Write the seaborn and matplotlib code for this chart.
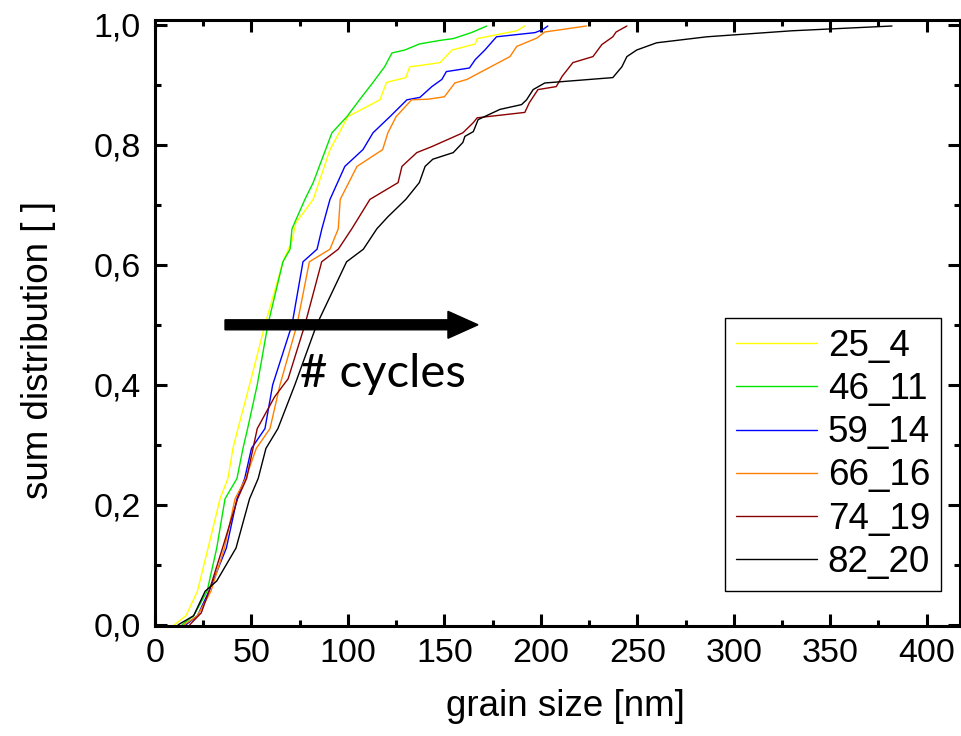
import numpy as np
import pandas as pd
import matplotlib
matplotlib.use("Agg")
import matplotlib.pyplot as plt
import seaborn as sns

# ---------------- data ----------------
labels = ["25_4", "46_11", "59_14", "66_16", "74_19", "82_20"]
colors = ["#ffff00", "#00e600", "#0000ff", "#ff8000", "#8b0000", "#000000"]

x_25_4 = [10, 16, 22, 27.5, 33.7, 37.8, 40.4, 43, 49, 57, 66.3, 71, 73, 82, 90.7, 100,
          116.6, 120, 130, 132, 137, 147.7, 154, 166, 167, 187.5, 191.7]
y_25_4 = [0, 0.015, 0.056, 0.128, 0.21, 0.244, 0.294, 0.327, 0.4, 0.5, 0.605, 0.64, 0.67, 0.709,
          0.792, 0.847, 0.875, 0.904, 0.912, 0.93, 0.932, 0.937, 0.958, 0.968, 0.977, 0.99, 0.998]

x_46_11 = [14, 20, 27, 32, 36.3, 42.5, 45.6, 48, 53, 58.5, 66.3, 70, 71, 77.7, 82, 91.7, 99.5,
           106, 113, 119, 122.8, 129.5, 137, 147.7, 154.6, 164, 172]
y_46_11 = [0, 0.015, 0.056, 0.128, 0.21, 0.244, 0.294, 0.327, 0.4, 0.5, 0.605, 0.626, 0.66,
           0.709, 0.737, 0.82, 0.847, 0.875, 0.904, 0.93, 0.953, 0.958, 0.968, 0.974, 0.977,
           0.987, 0.998]

x_59_14 = [16, 22, 28, 37, 42.5, 46.5, 50, 57, 61, 71, 76.7, 84, 86.5, 90.7, 98.4, 107.8, 113,
           121.8, 130.6, 137.3, 143.5, 148.7, 151, 163, 166, 171, 177, 197, 201, 203.6]
y_59_14 = [0, 0.015, 0.056, 0.128, 0.21, 0.244, 0.294, 0.327, 0.4, 0.5, 0.605, 0.626, 0.66,
           0.709, 0.764, 0.792, 0.82, 0.847, 0.875, 0.879, 0.897, 0.909, 0.922, 0.928, 0.942,
           0.958, 0.98, 0.987, 0.992, 0.998]

x_66_16 = [15, 22, 29, 36, 41.5, 47, 52.5, 59.6, 64.8, 73.6, 80, 90.7, 95, 96, 104.7, 118,
           120.7, 125, 133, 141.5, 150, 155.4, 161.7, 184, 187.5, 198, 202, 223.6]
y_66_16 = [0, 0.015, 0.056, 0.128, 0.21, 0.244, 0.294, 0.327, 0.4, 0.5, 0.605, 0.626, 0.66,
           0.709, 0.764, 0.792, 0.82, 0.847, 0.875, 0.876, 0.88, 0.903, 0.909, 0.947, 0.964,
           0.978, 0.988, 0.998]

x_74_19 = [18, 24, 28, 35, 42.8, 47.5, 50.8, 53, 62, 69, 77.7, 86.4, 95, 102, 111.4, 126, 128,
           135.7, 143.5, 159.6, 165, 167, 191.7, 194, 198.5, 208, 211, 216.6, 227, 231.6,
           237.3, 239, 244.6]
y_74_19 = [0, 0.02, 0.056, 0.128, 0.21, 0.244, 0.294, 0.327, 0.38, 0.41, 0.5, 0.605, 0.626,
           0.66, 0.709, 0.737, 0.764, 0.787, 0.797, 0.82, 0.837, 0.845, 0.854, 0.87, 0.892,
           0.897, 0.914, 0.937, 0.947, 0.967, 0.98, 0.988, 0.998]

x_82_20 = [12, 20, 26, 32, 42, 49, 53.5, 57.5, 63.7, 72.5, 83.8, 99.3, 108, 115, 120.7, 130,
           137, 140, 144, 154.6, 159.6, 160.6, 165, 167.5, 178.8, 190, 192.6, 196, 202, 237.3,
           242, 244.6, 249.7, 260, 286, 330, 382]
y_82_20 = [0, 0.015, 0.056, 0.073, 0.128, 0.21, 0.244, 0.294, 0.327, 0.4, 0.5, 0.605, 0.626,
           0.66, 0.68, 0.709, 0.737, 0.764, 0.776, 0.787, 0.804, 0.814, 0.822, 0.842, 0.859,
           0.867, 0.875, 0.892, 0.903, 0.912, 0.93, 0.947, 0.958, 0.97, 0.98, 0.99, 0.998]

xs = [x_25_4, x_46_11, x_59_14, x_66_16, x_74_19, x_82_20]
ys = [y_25_4, y_46_11, y_59_14, y_66_16, y_74_19, y_82_20]

x_ticks = [0, 50, 100, 150, 200, 250, 300, 350, 400]
y_ticks = [0.0, 0.2, 0.4, 0.6, 0.8, 1.0]
y_ticklabels = ["0,0", "0,2", "0,4", "0,6", "0,8", "1,0"]

arrow_start, arrow_end, arrow_y = 36.3, 167.4, 0.5
annot_text = "# cycles"

# ---------------- build long table ----------------
frames = []
for lab, x, y in zip(labels, xs, ys):
    frames.append(pd.DataFrame({"grain": x, "cum": y, "sample": lab}))
df = pd.concat(frames, ignore_index=True)

sns.set_style("ticks")
plt.rcParams["font.family"] = ["Liberation Sans", "DejaVu Sans"]
plt.rcParams["text.color"] = "black"
plt.rcParams["axes.labelcolor"] = "black"
plt.rcParams["xtick.color"] = "black"
plt.rcParams["ytick.color"] = "black"

W, H = 961, 736
fig = plt.figure(figsize=(W / 100, H / 100), dpi=100)
ax = fig.add_axes([155 / W, 110 / H, (959.5 - 155) / W, (626 - 20) / H])

sns.lineplot(data=df, x="grain", y="cum", hue="sample", hue_order=labels,
             palette=dict(zip(labels, colors)), estimator=None, sort=False,
             linewidth=1.0, ax=ax)

ax.set_xlim(0, 417)
ax.set_ylim(-0.002, 1.008)
ax.set_xticks(x_ticks)
ax.set_xticklabels([str(v) for v in x_ticks])
ax.set_xticks(np.arange(25, 417, 50), minor=True)
ax.set_yticks(y_ticks)
ax.set_yticklabels(y_ticklabels)
ax.set_yticks(np.arange(0.1, 1.0, 0.2), minor=True)

for s in ax.spines.values():
    s.set_linewidth(2.2)
    s.set_color("black")
ax.tick_params(which="both", direction="in", top=True, right=True, width=2.2,
               color="black", labelcolor="black")
ax.tick_params(which="major", length=8.5, labelsize=24.5)
ax.tick_params(which="minor", length=4)
ax.tick_params(axis="y", which="major", pad=10)
ax.tick_params(axis="x", which="major", pad=9)

ax.set_xlabel("grain size [nm]", fontsize=26.5, labelpad=14, color="black")
ax.set_ylabel("sum distribution [ ]", fontsize=26.5, labelpad=27, color="black")
ax.yaxis.label.set_y(0.455)
ax.xaxis.label.set_x(0.51)

# arrow + annotation
ax.arrow(arrow_start, arrow_y, arrow_end - arrow_start, 0,
         width=10 / 602, head_width=27 / 602, head_length=30 / 1.93,
         length_includes_head=True, color="black", zorder=5)
ax.text(75, 0.418, annot_text, fontsize=34, family=["Lato", "DejaVu Sans"],
        ha="left", va="center", color="black")

leg = ax.legend(loc="upper left", bbox_to_anchor=(0.708, 0.508), borderaxespad=0,
                fontsize=26.5, frameon=True, fancybox=False, framealpha=1,
                edgecolor="black", handlelength=2.2, handletextpad=0.3,
                labelspacing=0.22, borderpad=0.3, title=None)
leg.get_frame().set_linewidth(1.0)
for t in leg.get_texts():
    t.set_color("black")
for h in leg.get_lines():
    h.set_linewidth(1.0)

fig.savefig("out.png", dpi=100)
